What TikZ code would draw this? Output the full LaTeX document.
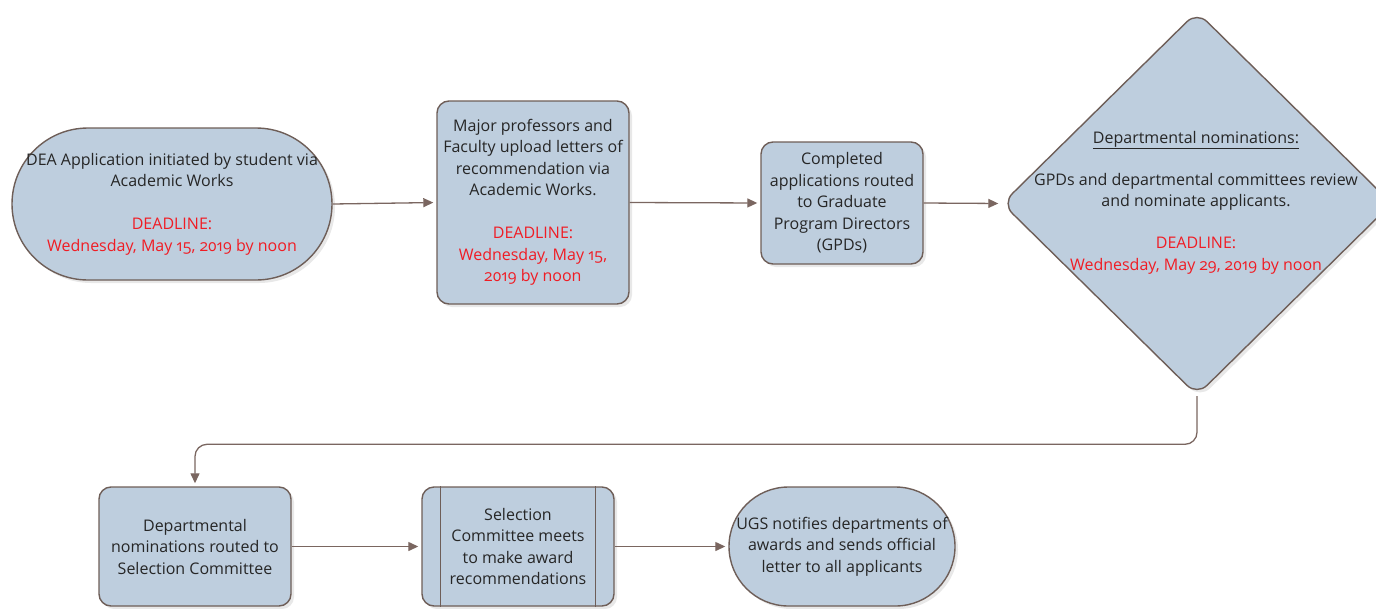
\documentclass[tikz,border=0pt]{standalone}
\usepackage{fontspec}
\setmainfont{Open Sans}[Numbers=OldStyle]
\usetikzlibrary{shapes.geometric,arrows.meta,shadows,calc}
\definecolor{boxfill}{RGB}{190,206,222}
\definecolor{boxline}{RGB}{110,94,88}
\definecolor{arrowc}{RGB}{122,102,96}
\definecolor{dred}{RGB}{240,28,36}
\tikzset{
  flowbox/.style={draw=boxline, line width=1.4pt, fill=boxfill, rounded corners=12pt,
    inner sep=0pt, align=center, text=black!85,
    drop shadow={opacity=0.18, shadow xshift=3pt, shadow yshift=-3pt}},
  termbox/.style={flowbox, rounded corners=#1},
  flowarrow/.style={draw=arrowc, line width=1.3pt, -{Triangle[length=10pt,width=9pt]}, shorten >=3pt},
  txt/.style={align=center, text=black!85, font=\fontsize{16}{21.5}\selectfont, inner sep=0pt}
}
\newcommand{\dl}[1]{\textcolor{dred}{#1}}
\begin{document}
\begin{tikzpicture}[x=1pt,y=-1pt]
\useasboundingbox (0,0) rectangle (1376,608);
% nodes
\node[termbox=76pt, minimum width=320pt, minimum height=152pt] (n1) at (172,204) {};
\node[txt] at (n1.center) {DEA Application initiated by student via\\Academic Works\\[21.5pt]\dl{DEADLINE:}\\\dl{Wednesday, May 15, 2019 by noon}};

\node[flowbox, minimum width=192pt, minimum height=203pt] (n2) at (533,202.5) {};
\node[txt] at (n2.center) {Major professors and\\Faculty upload letters of\\recommendation via\\Academic Works.\\[21.5pt]\dl{DEADLINE:}\\\dl{Wednesday, May 15,}\\\dl{2019 by noon}};

\node[flowbox, minimum width=162pt, minimum height=122pt] (n3) at (842,203) {};
\node[txt] at (n3.center) {Completed\\applications routed\\to Graduate\\Program Directors\\(GPDs)};

\node[draw=boxline, line width=1.4pt, fill=boxfill, diamond, rounded corners=14pt,
      minimum width=390pt, minimum height=384pt, inner sep=0pt,
      drop shadow={opacity=0.18, shadow xshift=3pt, shadow yshift=-3pt}] (n4) at (1197,203.5) {};
\node[txt] at (1196,202.5) {\underline{Departmental nominations:}\\[20.5pt]GPDs and departmental committees review\\and nominate applicants.\\[20.5pt]\dl{DEADLINE:}\\\dl{Wednesday, May 29, 2019 by noon}};

\node[flowbox, minimum width=192pt, minimum height=119pt] (n5) at (195,546.5) {};
\node[txt] at (n5.center) {Departmental\\nominations routed to\\Selection Committee};

\node[flowbox, minimum width=192pt, minimum height=119pt] (n6) at (518,546.5) {};
\draw[boxline, line width=1.4pt] ([xshift=19pt]n6.north west) -- ([xshift=19pt]n6.south west);
\draw[boxline, line width=1.4pt] ([xshift=-19pt]n6.north east) -- ([xshift=-19pt]n6.south east);
\node[txt] at (n6.center) {Selection\\Committee meets\\to make award\\recommendations};

\node[termbox=59.5pt, minimum width=226pt, minimum height=119pt] (n7) at (842,546.5) {};
\node[txt] at (n7.center) {UGS notifies departments of\\awards and sends official\\letter to all applicants};

% connectors
\draw[flowarrow] (n1.east) -- (n2.west);
\draw[flowarrow] (n2.east) -- (n3.west);
\draw[flowarrow] (n3.east) -- (n4.west);
\draw[flowarrow, rounded corners=12pt] (n4.south) |- ($(n5.north)+(0,-42)$) -- (n5.north);
\draw[flowarrow] (n5.east) -- (n6.west);
\draw[flowarrow] (n6.east) -- (n7.west);
\end{tikzpicture}
\end{document}
